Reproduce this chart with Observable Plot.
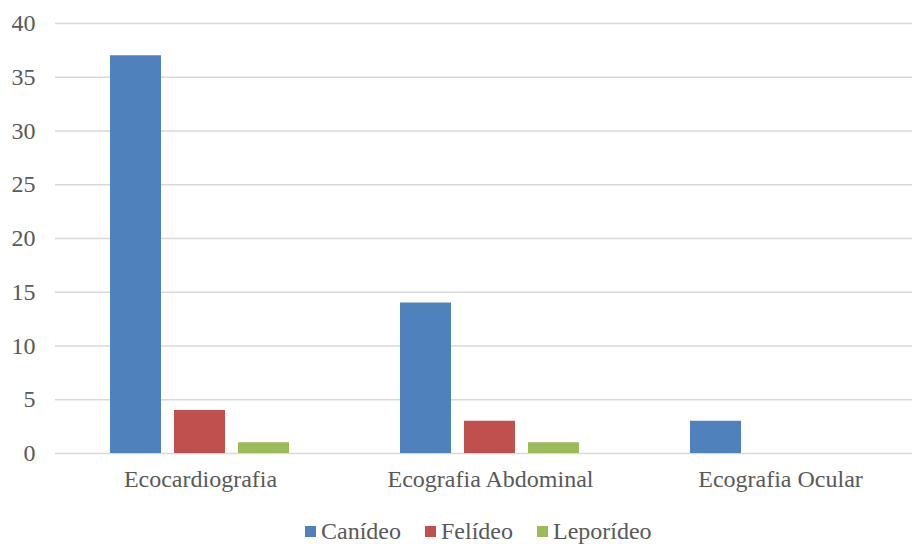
<!DOCTYPE html>
<html><head><meta charset="utf-8">
<script src="https://cdn.jsdelivr.net/npm/d3@7"></script>
<script src="https://cdn.jsdelivr.net/npm/@observablehq/plot@0.6"></script>
<style>
body{margin:0;background:#fff;font-family:'Liberation Serif';}
#legend{display:flex;justify-content:flex-start;gap:24px;font-size:24px;color:#595959;margin-top:18px;padding-left:305px;font-family:'Liberation Serif'}
#legend span.it{display:flex;align-items:center}
#legend i{display:inline-block;width:11px;height:11px;margin-right:5px}
</style></head>
<body><div id="chart"></div>
<script>
const categories = ["Ecocardiografia", "Ecografia Abdominal", "Ecografia Ocular"];
const series = ["Canídeo", "Felídeo", "Leporídeo"];
const colors = ["#4F81BD", "#C0504D", "#9BBB59"];
const canideo = [37, 14, 3];
const felideo = [4, 3, 0];
const leporideo = [1, 1, 0];
const yTicks = [0, 5, 10, 15, 20, 25, 30, 35, 40];

const values = [canideo, felideo, leporideo];
const data = [];
categories.forEach((c, i) => series.forEach((s, j) => data.push({cat: c, ser: s, v: values[j][i]})));

const FONT = "Liberation Serif";
const chart = Plot.plot({
  width: 912, height: 500,
  marginLeft: 55, marginRight: 0, marginTop: 23, marginBottom: 47,
  style: {fontFamily: FONT, fontSize: "24px", color: "#595959", background: "#fff"},
  fx: {domain: categories, range: [55, 925], padding: 0, label: null, axis: null},
  x: {domain: series, paddingInner: 0.203, paddingOuter: 0.867, axis: null},
  y: {domain: [0, 40], ticks: yTicks, label: null, axis: null},
  color: {domain: series, range: colors},
  marks: [
    Plot.ruleY(yTicks, {stroke: "#D9D9D9", strokeWidth: 1.3, facetAnchor: null}),
    Plot.axisY({ticks: yTicks, tickSize: 0, tickPadding: 20, label: null, fill: "#595959", facetAnchor: "left", anchor: "left", fontSize: 24, fontFamily: FONT}),
    Plot.axisFx({tickSize: 0, tickPadding: 16, label: null, fill: "#595959", anchor: "bottom", fontSize: 24, fontFamily: FONT}),
    Plot.barY(data, {fx: "cat", x: "ser", y: "v", fill: "ser", filter: d => d.v > 0})
  ]
});
document.getElementById("chart").appendChild(chart);

const leg = document.createElement("div");
leg.id = "legend";
series.forEach((s, j) => {
  const it = document.createElement("span");
  it.className = "it";
  it.innerHTML = `<i style="background:${colors[j]}"></i>${s}`;
  leg.appendChild(it);
});
document.body.appendChild(leg);
</script></body></html>
